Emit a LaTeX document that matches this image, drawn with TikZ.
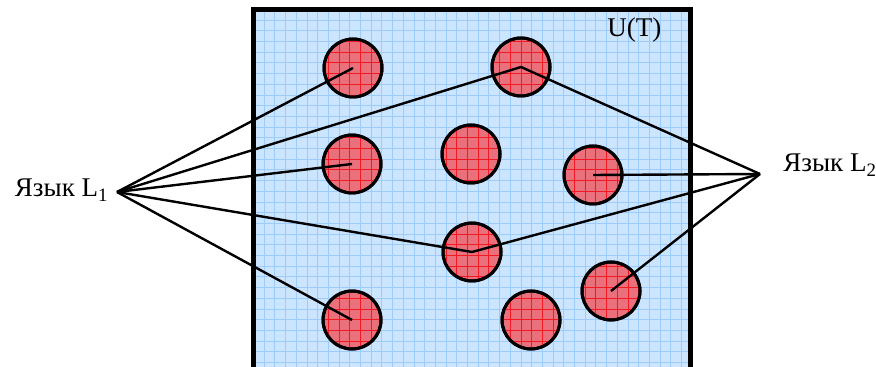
\documentclass[tikz,border=0pt]{standalone}
\usepackage{fontspec}
\setmainfont{Liberation Serif}
\definecolor{fieldfill}{RGB}{204,229,255}
\definecolor{fieldgrid}{RGB}{158,204,250}
\definecolor{wordfill}{RGB}{234,112,124}
\definecolor{wordgrid}{RGB}{242,24,36}
\begin{document}
\begin{tikzpicture}[x=0.5pt,y=-0.5pt,
    word/.style={
      circle, draw=black, line width=1.5pt, fill=wordfill,
      minimum size=29pt, inner sep=0pt
    },
    lang/.style={font=\fontsize{13.5}{15}\selectfont, inner sep=0pt},
    link/.style={line width=1.2pt, black},
    fieldline/.style={fieldgrid, line width=0.5pt},
    wordline/.style={wordgrid, line width=0.5pt}
  ]
    \clip (0,0) rectangle (876,367);

    \fill[fieldfill] (253.5,9.5) rectangle (690,380);
    \begin{scope}
      \clip (253.5,9.5) rectangle (690,380);
      \foreach \i in {0,...,41}
        \draw[fieldline] ({253.5+10.7*\i},9.5) -- ++(0,372);
      \foreach \j in {0,...,35}
        \draw[fieldline] (253.5,{9.5+10.7*\j}) -- ++(440,0);
    \end{scope}

    \node[word] (w1) at (353,68)  {};
    \node[word] (w2) at (521,67)  {};
    \node[word] (w3) at (352,164) {};
    \node[word] (w4) at (471,154) {};
    \node[word] (w5) at (593,175) {};
    \node[word] (w6) at (472,252) {};
    \node[word] (w7) at (611,291) {};
    \node[word] (w8) at (352,320) {};
    \node[word] (w9) at (531,320) {};

    \foreach \w in {w1,w2,w3,w4,w5,w6,w7,w8,w9} {
      \begin{scope}
        \clip (\w.center) circle (28);
        \foreach \i in {0,...,41}
          \draw[wordline] ({253.5+10.7*\i},9.5) -- ++(0,372);
        \foreach \j in {0,...,35}
          \draw[wordline] (253.5,{9.5+10.7*\j}) -- ++(440,0);
      \end{scope}
      \draw[line width=1.5pt] (\w) circle (29);
    }

    \node[lang, anchor=base east] (l1) at (109,197) {Язык L\textsubscript{1}};
    \node[lang, anchor=base west] (l2) at (783,172) {Язык L\textsubscript{2}};
    \node[lang, anchor=base west] (ut) at (607,37) {U(T)};

    \coordinate (v1) at (117,192);
    \coordinate (v2) at (760,174);

    \draw[link] (v1) -- (w1.center);
    \draw[link] (v1) -- (w2.center);
    \draw[link] (v1) -- (w3.center);
    \draw[link] (v1) -- (w6.center);
    \draw[link] (v1) -- (w8.center);

    \draw[link] (v2) -- (w2.center);
    \draw[link] (v2) -- (w5.center);
    \draw[link] (v2) -- (w6.center);
    \draw[link] (v2) -- (w7.center);

    \draw[line width=2.5pt] (253.5,380) |- (690,9.5) -- (690,380);
  \end{tikzpicture}
\end{document}
